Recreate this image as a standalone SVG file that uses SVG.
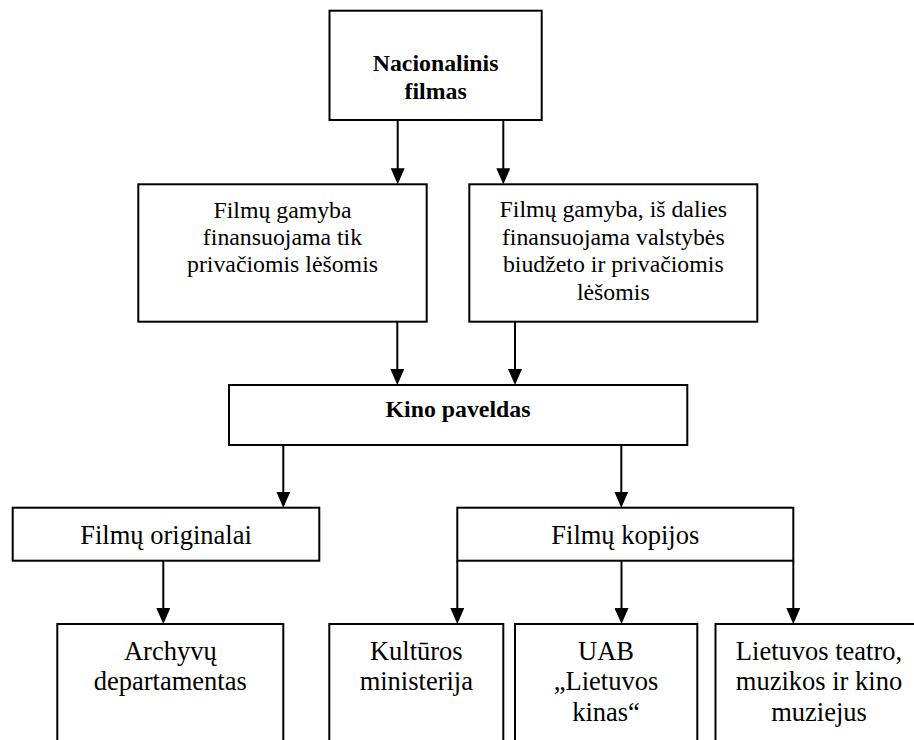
<svg xmlns="http://www.w3.org/2000/svg" width="914" height="740" viewBox="0 0 914 740">
<style>
.box{fill:#fff;stroke:#000;stroke-width:2}
.t{font-family:"Liberation Serif","Times New Roman",serif;fill:#000;text-anchor:middle}
.m{font-size:23.8px}
.b{font-size:23.8px;font-weight:bold}
.l{font-size:26.5px}
.c{stroke:#000;stroke-width:2;fill:none;marker-end:url(#ah)}
</style>
<defs>
<marker id="ah" markerUnits="userSpaceOnUse" markerWidth="16" markerHeight="14" viewBox="0 0 16 14" refX="13" refY="7" orient="auto">
<path d="M0,0 L16,7 L0,14 Z" fill="#000"/>
</marker>
</defs>
<rect width="914" height="740" fill="#fff"/>
<g id="connectors">
<line class="c" x1="397.7" y1="120" x2="397.7" y2="181.3"/>
<line class="c" x1="503.3" y1="120" x2="503.3" y2="181.3"/>
<line class="c" x1="397.3" y1="321.7" x2="397.3" y2="382"/>
<line class="c" x1="515" y1="321.7" x2="515" y2="382"/>
<line class="c" x1="283.3" y1="445" x2="283.3" y2="504.7"/>
<line class="c" x1="621.3" y1="445" x2="621.3" y2="504.7"/>
<line class="c" x1="163.3" y1="560.7" x2="163.3" y2="621"/>
<line class="c" x1="457.3" y1="560.7" x2="457.3" y2="621"/>
<line class="c" x1="621.5" y1="560.7" x2="621.5" y2="621"/>
<line class="c" x1="793.3" y1="560.7" x2="793.3" y2="621"/>
</g>
<g id="nacionalinis">
<rect class="box" x="329.5" y="10.7" width="212.2" height="109.3"/>
<text class="t b" x="435.6" y="71.3">Nacionalinis</text>
<text class="t b" x="435.6" y="98.7">filmas</text>
</g>
<g id="privacios">
<rect class="box" x="138.3" y="184.3" width="288.4" height="137.4"/>
<text class="t m" x="282.5" y="217.6">Filmų gamyba</text>
<text class="t m" x="282.5" y="245">finansuojama tik</text>
<text class="t m" x="282.5" y="272.4">privačiomis lėšomis</text>
</g>
<g id="valstybes">
<rect class="box" x="469.3" y="184.3" width="288" height="137.4"/>
<text class="t m" x="613.3" y="217.3">Filmų gamyba, iš dalies</text>
<text class="t m" x="613.3" y="244.7">finansuojama valstybės</text>
<text class="t m" x="613.3" y="272.1">biudžeto ir privačiomis</text>
<text class="t m" x="613.3" y="299.5">lėšomis</text>
</g>
<g id="kino-paveldas">
<rect class="box" x="229" y="385" width="458.3" height="60"/>
<text class="t b" x="458" y="417.3">Kino paveldas</text>
</g>
<g id="originalai">
<rect class="box" x="12.7" y="507.7" width="306.6" height="53"/>
<text class="t l" x="166" y="543.5">Filmų originalai</text>
</g>
<g id="kopijos">
<rect class="box" x="457.3" y="507.7" width="336" height="53"/>
<text class="t l" x="625.3" y="543.5">Filmų kopijos</text>
</g>
<g id="archyvu">
<rect class="box" x="57.3" y="624" width="226" height="140"/>
<text class="t l" x="170.3" y="659.5">Archyvų</text>
<text class="t l" x="170.3" y="690">departamentas</text>
</g>
<g id="kulturos">
<rect class="box" x="329.3" y="624" width="174" height="140"/>
<text class="t l" x="416.3" y="659.5">Kultūros</text>
<text class="t l" x="416.3" y="690">ministerija</text>
</g>
<g id="uab">
<rect class="box" x="515" y="624" width="182.3" height="140"/>
<text class="t l" x="606" y="659.5">UAB</text>
<text class="t l" x="606" y="690">„Lietuvos</text>
<text class="t l" x="606" y="720.5">kinas“</text>
</g>
<g id="muziejus">
<rect class="box" x="715.5" y="624" width="207" height="140"/>
<text class="t l" x="819" y="659.5">Lietuvos teatro,</text>
<text class="t l" x="819" y="690">muzikos ir kino</text>
<text class="t l" x="819" y="720.5">muziejus</text>
</g>
</svg>
